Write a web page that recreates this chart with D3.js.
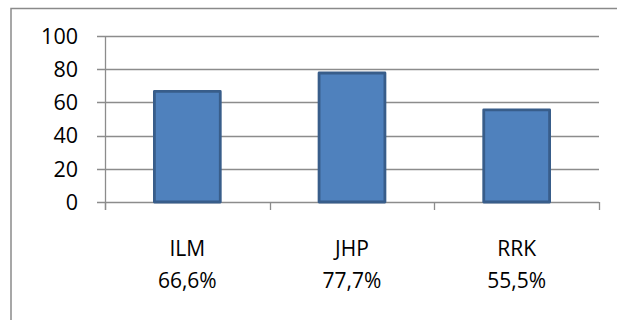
<!DOCTYPE html>
<html>
<head>
<meta charset="utf-8">
<script src="https://cdn.jsdelivr.net/npm/d3@7"></script>
<style>
  html, body { margin: 0; padding: 0; background: #fff; }
  svg { display: block; }
  text { font-family: "Open Sans", Lato, sans-serif; fill: #000; }
</style>
</head>
<body>
<svg id="chart" width="617" height="320"></svg>
<script>
const categories = ["ILM", "JHP", "RRK"];
const values = [66.6, 77.7, 55.5];
const valueLabels = ["66,6%", "77,7%", "55,5%"];
const yTicks = [0, 20, 40, 60, 80, 100];

const svg = d3.select("#chart");
const plot = { left: 105, right: 599, top: 36, bottom: 202 };

// Outer chart frame (continues past the right and bottom edges)
svg.append("rect")
  .attr("x", 11).attr("y", 8.5)
  .attr("width", 640).attr("height", 340)
  .attr("fill", "none")
  .attr("stroke", "#8a8a8a")
  .attr("stroke-width", 1.5);

const y = d3.scaleLinear().domain([0, 100]).range([plot.bottom, plot.top]);
const x = d3.scaleBand()
  .domain(categories)
  .range([plot.left, plot.right])
  .paddingInner(0.6)
  .paddingOuter(0.3);
const xEdges = d3.scaleBand().domain(categories).range([plot.left, plot.right]).padding(0);

const gridColor = "#8c8c8c";

// Horizontal gridlines with short ticks left of the axis
svg.append("g")
  .selectAll("line")
  .data(yTicks)
  .join("line")
  .attr("x1", plot.left - 8)
  .attr("x2", plot.right)
  .attr("y1", d => Math.round(y(d)) + 0.5)
  .attr("y2", d => Math.round(y(d)) + 0.5)
  .attr("stroke", gridColor)
  .attr("stroke-width", 1.3);

// Y axis line
svg.append("line")
  .attr("x1", plot.left + 0.5).attr("x2", plot.left + 0.5)
  .attr("y1", y(100)).attr("y2", plot.bottom + 8)
  .attr("stroke", gridColor).attr("stroke-width", 1.3);

// Category boundary ticks below the baseline
const boundaries = categories.map(c => xEdges(c)).concat([plot.right]);
svg.append("g")
  .selectAll("line")
  .data(boundaries)
  .join("line")
  .attr("x1", d => Math.round(d) + 0.5)
  .attr("x2", d => Math.round(d) + 0.5)
  .attr("y1", plot.bottom)
  .attr("y2", plot.bottom + 8)
  .attr("stroke", gridColor)
  .attr("stroke-width", 1.3);

// Y tick labels
svg.append("g")
  .selectAll("text")
  .data(yTicks)
  .join("text")
  .attr("x", 78)
  .attr("y", d => y(d))
  .attr("dy", "0.36em")
  .attr("text-anchor", "end")
  .attr("font-size", 21.5)
  .text(d => d);

// Bars
svg.append("g")
  .selectAll("rect")
  .data(values)
  .join("rect")
  .attr("x", (d, i) => x(categories[i]))
  .attr("width", x.bandwidth())
  .attr("y", d => y(d))
  .attr("height", d => plot.bottom - y(d))
  .attr("fill", "#4f81bd")
  .attr("stroke", "#385d8a")
  .attr("stroke-width", 2.8)
  .attr("stroke-linejoin", "round");

// Category labels, two lines each
const labels = svg.append("g")
  .selectAll("text")
  .data(categories)
  .join("text")
  .attr("text-anchor", "middle")
  .attr("font-size", 21);
labels.append("tspan")
  .attr("x", d => x(d) + x.bandwidth() / 2)
  .attr("y", 256)
  .text(d => d);
labels.append("tspan")
  .attr("x", d => x(d) + x.bandwidth() / 2)
  .attr("y", 288)
  .text((d, i) => valueLabels[i]);
</script>
</body>
</html>
